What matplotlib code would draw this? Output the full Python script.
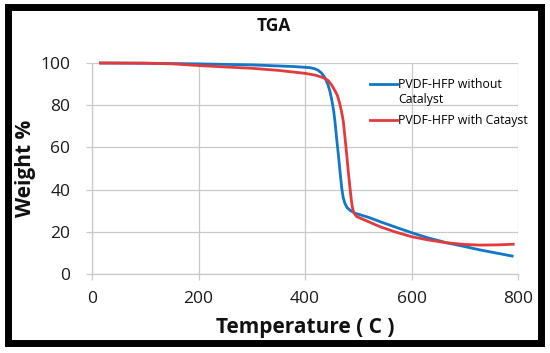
import matplotlib
matplotlib.use("Agg")
import matplotlib.pyplot as plt
from matplotlib.patches import Rectangle

plt.rcParams['font.family'] = ['Open Sans', 'DejaVu Sans']

# DATA (TEMPERATURE IN C, WEIGHT IN %)

temp_without = [16, 100, 200, 300, 380, 409, 418, 425, 432, 438, 443, 447,
                451, 454, 456.4, 459.5, 462.7, 466, 469, 471.5, 475, 479, 485,
                494, 520, 541, 570, 600, 630, 666, 700, 729, 760, 789]
weight_without = [100, 99.9, 99.6, 99.1, 98.3, 97.8, 97.3, 96.5, 95, 92.7, 89.8, 86.4,
                  81.5, 77, 72, 64, 56.4, 48, 40.7, 36.5, 33.4, 31.5, 30.1,
                  28.8, 26.8, 24.8, 22.2, 19.6, 17.2, 14.8, 13.0, 11.4, 9.9, 8.5]

temp_with = [16, 100, 150, 200, 259, 300, 350, 400, 420, 435, 443, 450,
             456, 461, 465, 469, 472, 475, 478.4, 481.5, 484.6, 487, 489,
             491, 494, 497, 510, 541, 570, 600, 630, 666, 700, 729, 760, 791]
weight_with = [100, 99.9, 99.6, 98.8, 98.0, 97.5, 96.5, 95.1, 94.2, 93.0, 91.8, 89.6,
               87, 84.5, 81, 76.5, 72.2, 65, 56.4, 48, 40.6, 35, 31.5,
               29.5, 28.2, 27.2, 25.8, 22.4, 19.9, 17.7, 16.2, 14.8, 14.0, 13.7, 13.8, 14.1]

x_ticks = [0, 200, 400, 600, 800]
y_ticks = [0, 20, 40, 60, 80, 100]

BLUE = '#1177c8'
RED = '#e33b3c'
GRID = '#c9c9c9'

fig = plt.figure(figsize=(5.5, 3.53), dpi=100)
ax = fig.add_axes([92 / 550, 1 - 274 / 353, 426 / 550, 211 / 353])

ax.plot(temp_without, weight_without, color=BLUE, lw=2.0,
        label='PVDF-HFP without', clip_on=False, zorder=3,
        solid_joinstyle='round')
ax.plot(temp_with, weight_with, color=RED, lw=2.0,
        label='PVDF-HFP with Catayst', clip_on=False, zorder=4,
        solid_joinstyle='round')

ax.set_xlim(0, 800)
ax.set_ylim(0, 100)
ax.set_xticks(x_ticks)
ax.set_yticks(y_ticks)
ax.grid(True, color=GRID, lw=0.9)
ax.set_axisbelow(True)

for side in ['top', 'right']:
    ax.spines[side].set_visible(False)
for side in ['left', 'bottom']:
    ax.spines[side].set_color(GRID)
    ax.spines[side].set_linewidth(0.9)

ax.tick_params(axis='both', direction='out', length=4.5, width=0.9, color=GRID,
               labelsize=12.5, labelcolor='#1a1a1a')
ax.tick_params(axis='y', pad=11)
ax.tick_params(axis='x', pad=8)

ax.set_xlabel('Temperature ( C )', fontsize=15, fontweight='bold', color='#111111')
ax.xaxis.set_label_coords(0.5, -0.205)
ax.set_ylabel('Weight %', fontsize=15, fontweight='bold', color='#111111')
ax.yaxis.set_label_coords(-0.132, 0.5)

fig.text(273.5 / 550, 1 - 26 / 353, 'TGA', fontsize=12.5, fontweight='bold',
         ha='center', va='center', color='#111111')

# LEGEND WITH THE HANDLE ON THE FIRST LINE OF THE WRAPPED LABEL

leg = ax.legend(loc='upper left', bbox_to_anchor=(370 / 550, 1 - 78 / 353),
                bbox_transform=fig.transFigure, frameon=False, fontsize=8.8,
                handlelength=2.2, handletextpad=0.1, labelspacing=1.9,
                borderpad=0, borderaxespad=0)
first_text = leg.get_texts()[0]
ax.annotate('Catalyst', xy=(0, 0), xycoords=first_text, xytext=(0, -1.5),
            textcoords='offset points', ha='left', va='top', fontsize=8.8,
            zorder=10)

# BLACK FRAME AROUND THE WHOLE PICTURE

fig.patches.append(Rectangle((7.5 / 550, 1 - 342.5 / 353), 533 / 550, 336 / 353,
                             transform=fig.transFigure, fill=False,
                             edgecolor='black', linewidth=5))

fig.canvas.draw()
fig.savefig('out.png', dpi=100)
